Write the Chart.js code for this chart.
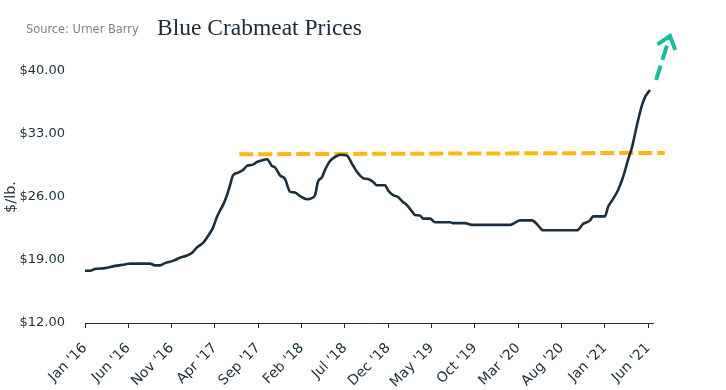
<!DOCTYPE html>
<html><head><meta charset="utf-8">
<script src="https://cdn.jsdelivr.net/npm/chart.js@4.4.1/dist/chart.umd.min.js"></script>
<style>html,body{margin:0;padding:0;background:#fff}#wrap{width:726px;height:390px;position:relative}</style>
</head><body><div id="wrap"><canvas id="c" width="726" height="390"></canvas></div>
<script>
// months since Jan 2016
const monthIndex = [0,0.58,1.15,2.31,3.46,4.62,5.19,7.5,8.08,8.65,9.23,10.15,10.96,11.77,12.46,12.92,13.62,14.08,14.42,14.77,15.23,15.58,15.92,16.38,16.73,17.08,17.65,18.23,18.69,19.38,19.85,20.54,21.0,21.58,21.92,22.5,23.08,23.65,24.23,24.81,25.62,25.96,26.54,26.88,27.35,27.69,28.27,28.85,29.42,30.23,30.81,31.38,32.08,32.65,33.23,33.69,34.62,34.96,35.54,36.12,36.69,37.15,37.73,38.08,38.65,39.0,39.81,40.38,42.11,42.46,43.85,44.65,49.04,49.62,50.19,51.58,52.27,52.85,56.77,57.46,58.27,58.62,60.0,60.35,60.81,61.5,62.08,62.65,63.12,63.46,63.81,64.27,64.62,65.19];
const prices = [17.8,17.8,18.0,18.1,18.35,18.5,18.6,18.6,18.4,18.4,18.65,18.9,19.25,19.5,19.9,20.4,20.9,21.5,22.0,22.6,23.8,24.5,25.1,26.2,27.3,28.4,28.7,29.0,29.45,29.6,29.9,30.1,30.2,29.45,29.3,28.4,28.0,26.6,26.5,26.1,25.75,25.8,26.2,27.7,28.2,29.0,30.0,30.45,30.7,30.6,29.7,28.8,28.1,28.0,27.7,27.3,27.3,26.75,26.2,26.0,25.45,25.1,24.4,24.0,23.95,23.6,23.6,23.2,23.2,23.1,23.1,22.9,22.9,23.15,23.4,23.4,22.85,22.3,22.3,23.0,23.4,23.85,23.85,24.9,25.6,26.75,28.2,30.1,31.55,33.0,34.5,36.2,37.1,37.9];
const tickMonths = [0,5,10,15,20,25,30,35,40,45,50,55,60,65];
const tickLabels = ["Jan '16","Jun '16","Nov '16","Apr '17","Sep '17","Feb '18","Jul '18","Dec '18","May '19","Oct '19","Mar '20","Aug '20","Jan '21","Jun '21"];
const yTicks = [12,19,26,33,40];
const resistanceMonths = [17.8, 66.9];
const resistancePrices = [30.75, 30.9];
const trendMonths = [65.9, 67.5];
const trendPrices = [39.0, 43.9];
const titleText = "Blue Crabmeat Prices";
const sourceText = "Source: Urner Barry";

const NAVY = '#1c2e3c';
const toXY = (xs, ys) => xs.map((x, i) => ({x, y: ys[i]}));

const headerPlugin = {
  id: 'header',
  afterDraw(chart) {
    const ctx = chart.ctx;
    ctx.save();
    ctx.textBaseline = 'alphabetic';
    ctx.textAlign = 'left';
    ctx.fillStyle = '#7f7f7f';
    ctx.font = '11.4px "DejaVu Sans"';
    ctx.fillText(sourceText, 26, 32.5);
    ctx.fillStyle = '#1b2a38';
    ctx.font = '23.5px "Liberation Serif"';
    ctx.fillText(titleText, 157, 35);
    ctx.restore();
  }
};

const arrowPlugin = {
  id: 'arrowhead',
  afterDatasetsDraw(chart) {
    const meta = chart.getDatasetMeta(2);
    const pts = meta.data;
    if (pts.length < 2) return;
    const a = pts[pts.length - 2], b = pts[pts.length - 1];
    const ang = Math.atan2(a.y - b.y, a.x - b.x);
    const len = 15, spread = 38 * Math.PI / 180;
    const ctx = chart.ctx;
    ctx.save();
    ctx.strokeStyle = '#19bc9b';
    ctx.lineWidth = 4;
    ctx.lineCap = 'butt';
    ctx.lineJoin = 'miter';
    ctx.beginPath();
    ctx.moveTo(b.x + len * Math.cos(ang + spread), b.y + len * Math.sin(ang + spread));
    ctx.lineTo(b.x, b.y);
    ctx.lineTo(b.x + len * Math.cos(ang - spread), b.y + len * Math.sin(ang - spread));
    ctx.stroke();
    ctx.restore();
  }
};

Chart.defaults.font.family = '"DejaVu Sans"';
Chart.defaults.color = NAVY;

new Chart(document.getElementById('c'), {
  type: 'line',
  data: {
    datasets: [
      {
        data: toXY(monthIndex, prices),
        borderColor: NAVY,
        borderWidth: 2.6,
        pointRadius: 0,
        cubicInterpolationMode: 'monotone',
        order: 0
      },
      {
        data: toXY(resistanceMonths, resistancePrices),
        borderColor: '#fdb813',
        borderWidth: 4,
        borderDash: [14, 5],
        pointRadius: 0,
        clip: false,
        order: 1
      },
      {
        data: toXY(trendMonths, trendPrices),
        borderColor: '#19bc9b',
        borderWidth: 4,
        borderDash: [15, 6],
        pointRadius: 0,
        clip: false,
        order: 1
      }
    ]
  },
  options: {
    responsive: false,
    animation: false,
    devicePixelRatio: 1,
    layout: { padding: { top: 71, right: 73, bottom: 0, left: 0 } },
    plugins: { legend: { display: false }, tooltip: { enabled: false } },
    scales: {
      x: {
        type: 'linear',
        min: 0,
        max: 65.54,
        afterBuildTicks(scale) { scale.ticks = tickMonths.map(v => ({value: v})); },
        afterFit(scale) { scale.height = 67; },
        ticks: {
          autoSkip: false,
          maxRotation: 45,
          minRotation: 45,
          padding: 12,
          color: NAVY,
          font: { size: 14 },
          callback(v) { const i = tickMonths.indexOf(v); return i >= 0 ? tickLabels[i] : ''; }
        },
        grid: { display: true, drawOnChartArea: false, drawTicks: true, tickLength: 5, color: NAVY, lineWidth: 1 },
        border: { display: true, color: NAVY, width: 1 }
      },
      y: {
        min: 12,
        max: 40,
        afterBuildTicks(scale) { scale.ticks = yTicks.map(v => ({value: v})); },
        afterFit(scale) { scale.width = 85; },
        ticks: {
          padding: 20,
          color: NAVY,
          font: { size: 13 },
          callback(v) { return '$' + Number(v).toFixed(2); }
        },
        grid: { display: false, drawTicks: false },
        border: { display: false },
        title: { display: true, text: '$/lb.', color: NAVY, font: { size: 14.5 }, padding: { top: 3, bottom: 0 } }
      }
    }
  },
  plugins: [headerPlugin, arrowPlugin]
});
</script>
</body></html>
